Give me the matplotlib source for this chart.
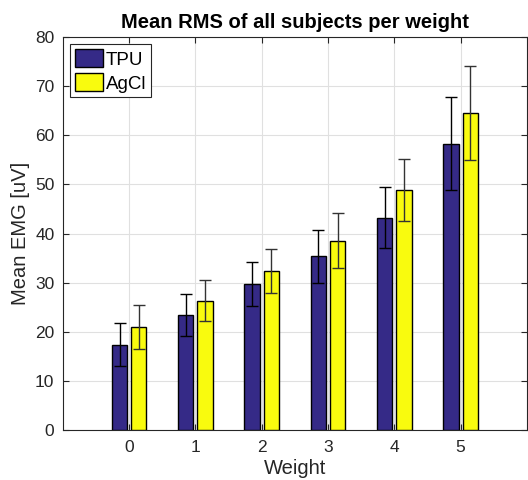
import numpy as np
import matplotlib.pyplot as plt

plt.rcParams['font.family'] = ['Liberation Sans', 'DejaVu Sans']

weights = [0, 1, 2, 3, 4, 5]
tpu_mean = [17.4, 23.4, 29.7, 35.4, 43.2, 58.3]
tpu_err = [4.3, 4.3, 4.5, 5.4, 6.2, 9.5]
agcl_mean = [20.9, 26.3, 32.3, 38.5, 48.8, 64.5]
agcl_err = [4.5, 4.2, 4.5, 5.6, 6.3, 9.6]

fig = plt.figure(figsize=(5.28, 4.8), dpi=100)
ax = fig.add_axes([0.119, 0.104, 0.879, 0.819])

x = np.array(weights)
w = 0.23
off = 0.145
ax.bar(x - off, tpu_mean, w, color='#352a87', edgecolor='black', linewidth=1, label='TPU', zorder=3)
ax.bar(x + off, agcl_mean, w, color='#f9fb0e', edgecolor='black', linewidth=1, label='AgCl', zorder=3)
ax.errorbar(x - off, tpu_mean, yerr=tpu_err, fmt='none', ecolor='black', elinewidth=1, capsize=4, zorder=4)
ax.errorbar(x + off, agcl_mean, yerr=agcl_err, fmt='none', ecolor='#333333', elinewidth=1, capsize=4, zorder=4)

ax.set_xlim(-1, 6)
ax.set_ylim(0, 80)
ax.set_xticks(weights)
ax.set_yticks(range(0, 81, 10))
ax.grid(True, color='#e0e0e0', linewidth=0.8, zorder=0)
ax.set_axisbelow(True)
ax.tick_params(direction='in', top=True, right=True, labelsize=12.5, length=4, color='#262626', labelcolor='#262626')
ax.tick_params(axis='x', pad=7)
ax.tick_params(axis='y', pad=6)
for s in ax.spines.values():
    s.set_color('#262626')

ax.set_title('Mean RMS of all subjects per weight', fontsize=14.5, fontweight='bold', pad=6.5)
ax.set_xlabel('Weight', fontsize=14.5, color='#262626', labelpad=3)
ax.set_ylabel('Mean EMG [uV]', fontsize=14.5, color='#262626', labelpad=4)

leg = ax.legend(loc='upper left', fontsize=13.5, fancybox=False, edgecolor='#262626',
                handlelength=1.5, handleheight=1.1, handletextpad=0.15, borderpad=0.25,
                labelspacing=0.25, borderaxespad=0.4, framealpha=1)
leg.get_frame().set_linewidth(0.8)

fig.savefig('out.png', dpi=100)
